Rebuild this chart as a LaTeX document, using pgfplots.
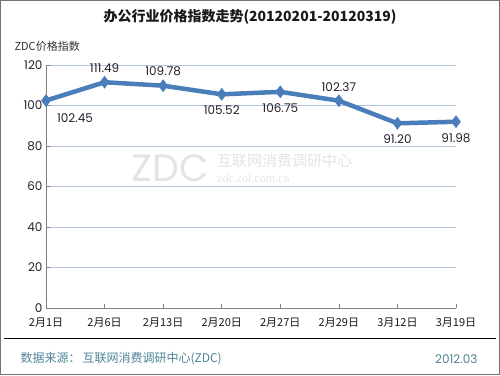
\documentclass[border=0pt]{standalone}
\usepackage{fontspec}
\setmainfont{Noto Sans CJK SC}
\newfontfamily\num{Poppins}
\newfontfamily\serifw{Liberation Serif}
\usepackage{pgfplots}
\pgfplotsset{compat=1.18}
\definecolor{lineblue}{HTML}{4A7EBB}
\definecolor{gridc}{HTML}{B4C4DC}
\definecolor{foot}{HTML}{4E8597}
\definecolor{lab}{HTML}{2A1F2F}
\definecolor{wm}{HTML}{E4E4E4}
\begin{document}
\begin{tikzpicture}[x=1pt,y=1pt]
\fill[white] (0,0) rectangle (500,375);
\draw[black!55, line width=1pt] (0.5,0.5) rectangle (499.5,374.5);
\node[font=\fontsize{14}{16}\selectfont\bfseries, text=black!90] at (250,358) {办公行业价格指数走势(20120201-20120319)};
\node[font=\fontsize{11}{13}\selectfont, text=black!80, anchor=west] at (11,329) {ZDC价格指数};
% watermark
\node[font=\num\fontsize{38}{38}\selectfont, text=wm, inner sep=0pt] at (170,207) {ZDC};
\node[font=\fontsize{15}{17}\selectfont, text=wm, anchor=west, inner sep=0pt] at (217,214) {互联网消费调研中心};
\node[font=\serifw\fontsize{12}{14}\selectfont, text=wm, anchor=west, inner sep=0pt] at (217,197) {zdc.zol.com.cn};
\begin{axis}[
  at={(46pt,67pt)}, anchor=south west,
  scale only axis, width=410pt, height=243pt,
  xmin=0, xmax=7, ymin=0, ymax=120,
  axis lines*=left,
  axis line style={black!50, line width=0.8pt},
  xtick={0,...,7},
  xticklabels={2月1日,2月6日,2月13日,2月20日,2月27日,2月29日,3月12日,3月19日},
  ytick={0,20,...,120},
  ymajorgrids, grid style={gridc, line width=0.7pt},
  tick align=inside,
  major tick length=4pt,
  tick style={black!50, line width=0.7pt},
  x tick label style={font=\fontsize{11}{13}\selectfont, text=black!90, yshift=-6pt},
  y tick label style={font=\num\fontsize{12}{14}\selectfont, text=lab},
  /pgf/number format/assume math mode=true,
  clip=false,
]
\addplot[lineblue, line width=4.5pt, mark=diamond*, mark size=6pt, mark options={fill=lineblue, draw=lineblue, line width=0.5pt}]
  coordinates {(0,102.45) (1,111.49) (2,109.78) (3,105.52) (4,106.75) (5,102.37) (6,91.20) (7,91.98)};
% labels above
\addplot[draw=none, mark=none, nodes near coords, point meta=explicit symbolic,
  every node near coord/.style={anchor=south, yshift=6pt, font=\num\fontsize{12}{14}\selectfont, text=lab}]
  coordinates {(1,111.49)[111.49] (2,109.78)[109.78] (5,102.37)[102.37]};
% labels below
\addplot[draw=none, mark=none, nodes near coords, point meta=explicit symbolic,
  every node near coord/.style={anchor=north, yshift=-8pt, font=\num\fontsize{12}{14}\selectfont, text=lab}]
  coordinates {(3,105.52)[105.52] (4,106.75)[106.75] (6,91.20)[91.20] (7,91.98)[91.98]};
\addplot[draw=none, mark=none, nodes near coords, point meta=explicit symbolic,
  every node near coord/.style={anchor=north, yshift=-10pt, xshift=29pt, font=\num\fontsize{12}{14}\selectfont, text=lab}]
  coordinates {(0,102.45)[102.45]};
\end{axis}
\draw[black, line width=1pt] (4,37) -- (496,37);
\node[font=\fontsize{12}{14}\selectfont, text=foot, anchor=west] at (17,16) {数据来源：\,互联网消费调研中心(ZDC)};
\node[font=\num\fontsize{12}{14}\selectfont, text=foot, anchor=east] at (481,16) {2012.03};
\end{tikzpicture}
\end{document}
